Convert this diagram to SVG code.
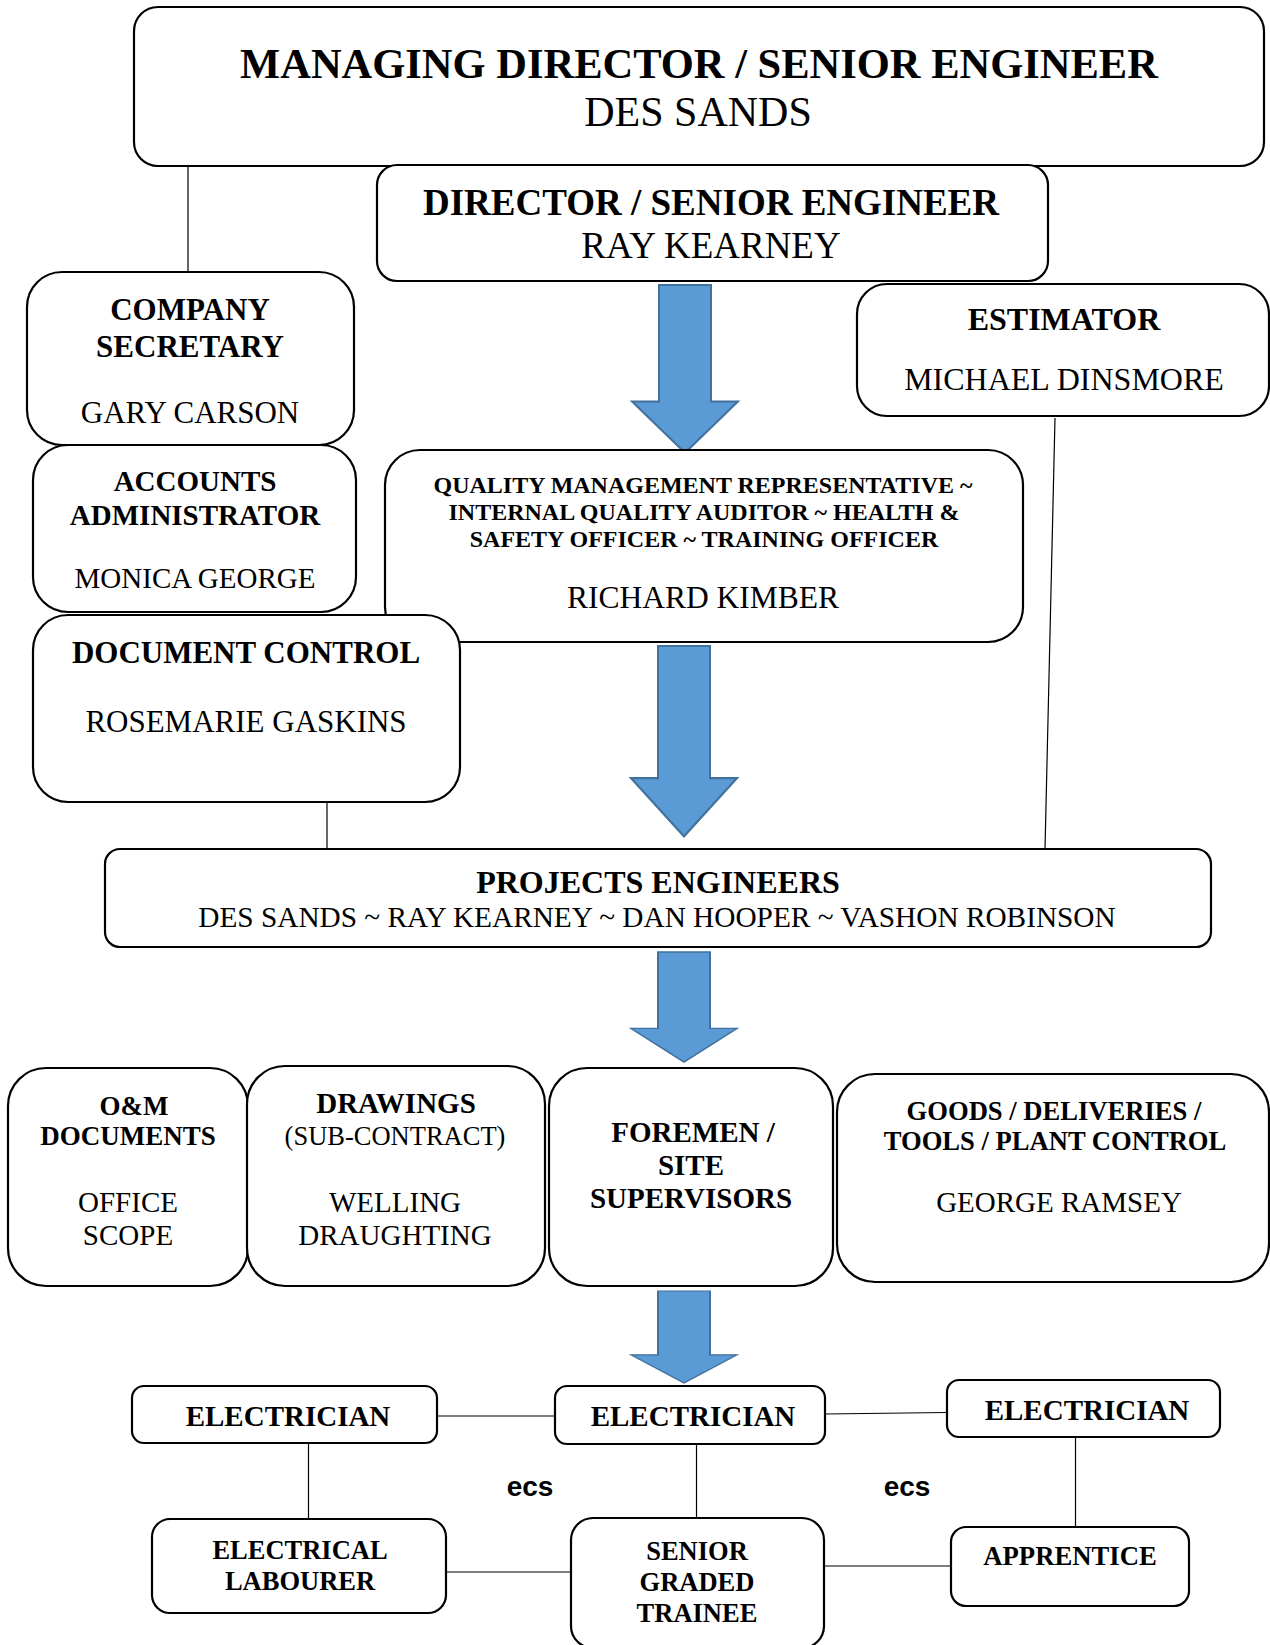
<svg xmlns="http://www.w3.org/2000/svg" width="1270" height="1645" viewBox="0 0 1270 1645">
<style>
.box{fill:#fff;stroke:#000;stroke-width:2.2}
.ln{stroke:#000;stroke-width:1.2;fill:none}
.arr{fill:#5B9BD5;stroke:#41719C;stroke-width:2}
text{font-family:"Liberation Serif","Times New Roman",serif;fill:#000;text-anchor:middle}
.b{font-weight:bold}
.ecs{font-family:"Liberation Sans",Arial,sans-serif;font-weight:bold;font-size:28px}
</style>
<defs>
<path id="arrow" d="M0,0 H52 V118 H79 L26,170 L-27,118 H0 Z"/>
</defs>
<g id="connectors">
<line class="ln" x1="188" y1="167" x2="188" y2="272"/>
<line class="ln" x1="1055" y1="418" x2="1045" y2="849"/>
<line class="ln" x1="327" y1="802" x2="327" y2="849"/>
<line class="ln" x1="437" y1="1416" x2="555" y2="1416"/>
<line class="ln" x1="825" y1="1414" x2="947" y2="1412.5"/>
<line class="ln" x1="308.5" y1="1443" x2="308.5" y2="1519"/>
<line class="ln" x1="696.5" y1="1444" x2="696.5" y2="1518"/>
<line class="ln" x1="1075.5" y1="1438" x2="1075.5" y2="1527"/>
<line class="ln" x1="446" y1="1572" x2="571" y2="1572"/>
<line class="ln" x1="824" y1="1566" x2="951" y2="1566"/>
<use href="#arrow" class="arr" transform="translate(659,285) scale(1,0.987)"/>
<use href="#arrow" class="arr" transform="translate(658,646) scale(1,1.12)"/>
<use href="#arrow" class="arr" transform="translate(658,952) scale(1,0.647)"/>
<use href="#arrow" class="arr" transform="translate(658,1291) scale(1,0.541)"/>
</g>
<g id="md">
<rect class="box" x="134" y="7" width="1130" height="159" rx="24"/>
<text class="b" x="699" y="78" font-size="42.5">MANAGING DIRECTOR / SENIOR ENGINEER</text>
<text x="698" y="126" font-size="42">DES SANDS</text>
</g>
<g id="director">
<rect class="box" x="377" y="165" width="671" height="116" rx="20"/>
<text class="b" x="711" y="215" font-size="37">DIRECTOR / SENIOR ENGINEER</text>
<text x="711" y="258" font-size="37">RAY KEARNEY</text>
</g>
<g id="company-secretary">
<rect class="box" x="27" y="272" width="327" height="173" rx="35"/>
<text class="b" x="190" y="320" font-size="31">COMPANY</text>
<text class="b" x="190" y="357" font-size="31">SECRETARY</text>
<text x="190" y="423" font-size="31">GARY CARSON</text>
</g>
<g id="estimator">
<rect class="box" x="857" y="284" width="412" height="132" rx="30"/>
<text class="b" x="1064" y="330" font-size="32">ESTIMATOR</text>
<text x="1064" y="390" font-size="32">MICHAEL DINSMORE</text>
</g>
<g id="accounts">
<rect class="box" x="33" y="445" width="323" height="167" rx="35"/>
<text class="b" x="195" y="491" font-size="29">ACCOUNTS</text>
<text class="b" x="195" y="525" font-size="29">ADMINISTRATOR</text>
<text x="195" y="588" font-size="29">MONICA GEORGE</text>
</g>
<g id="qmr">
<rect class="box" x="385" y="450" width="638" height="192" rx="35"/>
<text class="b" x="703" y="493" font-size="24">QUALITY MANAGEMENT REPRESENTATIVE ~</text>
<text class="b" x="704" y="520" font-size="24">INTERNAL QUALITY AUDITOR ~ HEALTH &amp;</text>
<text class="b" x="704" y="547" font-size="24">SAFETY OFFICER ~ TRAINING OFFICER</text>
<text x="703" y="608" font-size="31.5">RICHARD KIMBER</text>
</g>
<g id="document-control">
<rect class="box" x="33" y="615" width="427" height="187" rx="35"/>
<text class="b" x="246" y="663" font-size="31">DOCUMENT CONTROL</text>
<text x="246" y="732" font-size="31">ROSEMARIE GASKINS</text>
</g>
<g id="projects-engineers">
<rect class="box" x="105" y="849" width="1106" height="98" rx="15"/>
<text class="b" x="658" y="893" font-size="32">PROJECTS ENGINEERS</text>
<text x="657" y="927" font-size="29.3">DES SANDS ~ RAY KEARNEY ~ DAN HOOPER ~ VASHON ROBINSON</text>
</g>
<g id="om-documents">
<rect class="box" x="8" y="1068" width="240" height="218" rx="38"/>
<text class="b" x="134" y="1115" font-size="27">O&amp;M</text>
<text class="b" x="128" y="1145" font-size="27">DOCUMENTS</text>
<text x="128" y="1212" font-size="29">OFFICE</text>
<text x="128" y="1245" font-size="29">SCOPE</text>
</g>
<g id="drawings">
<rect class="box" x="247" y="1066" width="298" height="220" rx="38"/>
<text class="b" x="396" y="1113" font-size="29">DRAWINGS</text>
<text x="395" y="1145" font-size="26.5">(SUB-CONTRACT)</text>
<text x="395" y="1212" font-size="29">WELLING</text>
<text x="395" y="1245" font-size="29">DRAUGHTING</text>
</g>
<g id="foremen">
<rect class="box" x="549" y="1068" width="284" height="218" rx="38"/>
<text class="b" x="693" y="1142" font-size="29">FOREMEN /</text>
<text class="b" x="691" y="1175" font-size="29">SITE</text>
<text class="b" x="691" y="1208" font-size="29">SUPERVISORS</text>
</g>
<g id="goods">
<rect class="box" x="837" y="1074" width="432" height="208" rx="38"/>
<text class="b" x="1054" y="1120" font-size="26.6">GOODS / DELIVERIES /</text>
<text class="b" x="1055" y="1150" font-size="26.6">TOOLS / PLANT CONTROL</text>
<text x="1059" y="1212" font-size="29">GEORGE RAMSEY</text>
</g>
<g id="electrician-1">
<rect class="box" x="132" y="1386" width="305" height="57" rx="12"/>
<text class="b" x="288" y="1426" font-size="29">ELECTRICIAN</text>
</g>
<g id="electrician-2">
<rect class="box" x="555" y="1386" width="270" height="58" rx="12"/>
<text class="b" x="693" y="1426" font-size="29">ELECTRICIAN</text>
</g>
<g id="electrician-3">
<rect class="box" x="947" y="1380" width="273" height="57" rx="12"/>
<text class="b" x="1087" y="1420" font-size="29">ELECTRICIAN</text>
</g>
<g id="electrical-labourer">
<rect class="box" x="152" y="1519" width="294" height="94" rx="18"/>
<text class="b" x="300" y="1559" font-size="26.5">ELECTRICAL</text>
<text class="b" x="300" y="1590" font-size="26.5">LABOURER</text>
</g>
<g id="senior-graded-trainee">
<rect class="box" x="571" y="1518" width="253" height="130" rx="22"/>
<text class="b" x="697" y="1560" font-size="26.5">SENIOR</text>
<text class="b" x="697" y="1591" font-size="26.5">GRADED</text>
<text class="b" x="697" y="1622" font-size="26.5">TRAINEE</text>
</g>
<g id="apprentice">
<rect class="box" x="951" y="1527" width="238" height="79" rx="15"/>
<text class="b" x="1070" y="1565" font-size="26.7">APPRENTICE</text>
</g>
<g id="labels">
<text class="ecs" x="530" y="1496">ecs</text>
<text class="ecs" x="907" y="1496">ecs</text>
</g>
</svg>
